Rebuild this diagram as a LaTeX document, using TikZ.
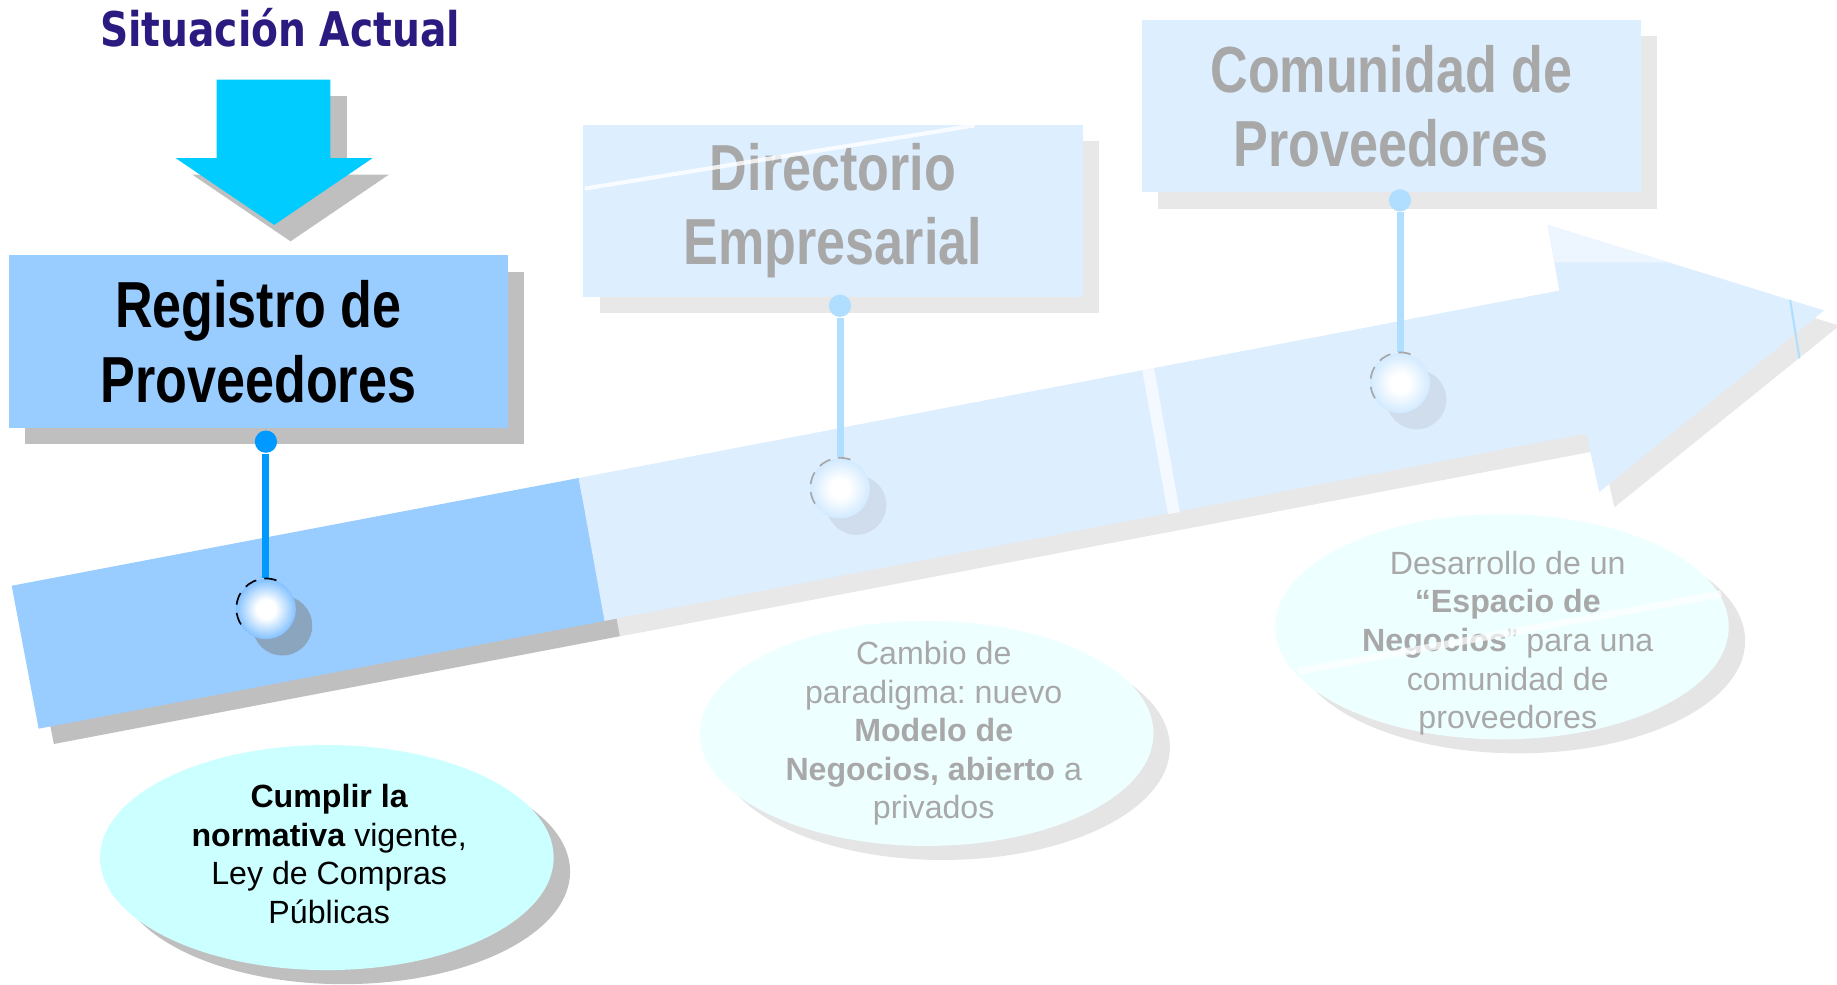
\documentclass[tikz,border=0pt]{standalone}
\usepackage{fontspec}
\setmainfont{Liberation Sans}
\newfontfamily\narrowfont[FakeStretch=0.8]{Liberation Sans}
\newfontfamily\headfont[FakeStretch=0.82]{DejaVu Sans}
\usetikzlibrary{shapes.geometric,shadows}
\frenchspacing
\definecolor{titleblue}{RGB}{43,27,128}
\definecolor{arrowcyan}{HTML}{00CCFF}
\definecolor{boxdeep}{HTML}{99CCFF}
\definecolor{boxpale}{HTML}{DDEEFF}
\definecolor{fadegray}{HTML}{A8A8A8}
\definecolor{goaldeep}{HTML}{CCFFFF}
\definecolor{goalpale}{HTML}{EEFFFF}
\definecolor{pindeep}{HTML}{0099FF}
\definecolor{pinpale}{HTML}{B0DEFF}
\definecolor{bubdeep}{HTML}{3399FF}
\definecolor{bubpale}{HTML}{B4DCFF}
\definecolor{stripe}{HTML}{F4F9FF}
\pgfdeclareradialshading{bubble deep}{\pgfpoint{0bp}{0bp}}{color(0bp)=(white); color(8bp)=(white); color(36bp)=(bubdeep); color(50bp)=(bubdeep)}
\pgfdeclareradialshading{bubble pale}{\pgfpoint{0bp}{0bp}}{color(0bp)=(white); color(8bp)=(white); color(36bp)=(bubpale); color(50bp)=(bubpale)}
\tikzset{
   stage box/.style={rectangle,minimum width=4.26cm,minimum height=1.47cm,inner sep=0pt,align=center,
                     font=\narrowfont\bfseries\fontsize{15.8}{18.1}\selectfont},
   now box/.style={stage box,fill=boxdeep,text=black,
                   drop shadow={shadow xshift=.14cm,shadow yshift=-.14cm,fill=black!25,opacity=1}},
   next box/.style={stage box,fill=boxpale,text=fadegray,
                    drop shadow={shadow xshift=.14cm,shadow yshift=-.14cm,fill=black!9,opacity=1}},
   goal/.style={ellipse,minimum width=3.87cm,minimum height=1.92cm,inner sep=0pt},
   goal now/.style={goal,fill=goaldeep,
                    drop shadow={shadow xshift=.14cm,shadow yshift=-.12cm,fill=black!25,opacity=1}},
   goal next/.style={goal,fill=goalpale,
                     drop shadow={shadow xshift=.14cm,shadow yshift=-.12cm,fill=black!10,opacity=1}},
   goal text/.style={align=center,text=fadegray,font=\fontsize{7.8}{9.35}\selectfont},
   bubble/.style={circle,minimum size=.51cm,inner sep=0pt,shade},
   bubble now/.style={bubble,shading=bubble deep,
                      drop shadow={shadow xshift=.14cm,shadow yshift=-.14cm,fill=gray,opacity=.5}},
   bubble next/.style={bubble,shading=bubble pale,
                       drop shadow={shadow xshift=.14cm,shadow yshift=-.14cm,fill=gray,opacity=.15}},
   pin now/.style={circle,fill=pindeep,minimum size=.19cm,inner sep=0pt},
   pin next/.style={circle,fill=pinpale,minimum size=.19cm,inner sep=0pt},
   stem now/.style={draw=pindeep,line width=1.7pt},
   stem next/.style={draw=pinpale,line width=1.7pt}
}

\begin{document}
\begin{tikzpicture}[x=0.01cm,y=-0.01cm]
\useasboundingbox (0,0) rectangle (1568,840);
% timeline arrow
\fill[black!9] (22,513) -- (1343,261) -- (1334,205) -- (1570,278) -- (1378,433) -- (1367,384) -- (46,635) -- cycle;
\fill[black!25] (22,513) -- (507,421) -- (529,543) -- (46,635) -- cycle;
\fill[boxdeep] (10,500) -- (494,408) -- (516,530) -- (33,622) -- cycle;
\fill[boxpale] (494,408) -- (1331,248) -- (1321,192) -- (1557,265) -- (1365,420) -- (1354,370) -- (516,530) -- cycle;
\fill[stripe] (975,316) -- (985,314) -- (1007,437) -- (997,439) -- cycle;
\fill[stripe!70!boxpale] (1321,192) -- (1424,224) -- (1327,224) -- cycle;
\draw[pinpale,line width=.5pt] (1528,256) -- (1536,306);
% current state marker
\fill[black!25] (199,82) -- (296,82) -- (296,149) -- (332,149) -- (248,206) -- (164,149) -- (199,149) -- cycle;
\fill[arrowcyan] (185,68) -- (282,68) -- (282,135) -- (318,135) -- (234,192) -- (150,135) -- (185,135) -- cycle;
\node[anchor=base,text=titleblue,font=\headfont\bfseries\fontsize{11.6}{13}\selectfont] (situacion) at (239,40) {Situación Actual};
%
\node[now box]  (registro)   at (220.5,291.5) {Registro de\\Proveedores};
\node[next box] (directorio) at (711,180)     {Directorio\\Empresarial};
\node[next box] (comunidad)  at (1187.5,90.5) {Comunidad de\\Proveedores};
\draw[white,line width=1pt,opacity=.8] (499,161) -- (832,107);
%
\node[goal now]  (cumplir)    at (279,732) {};
\node[goal next] (cambio)     at (791,626) {};
\node[goal next] (desarrollo) at (1282,535) {};
\node[goal text,text=black] (cumplir text) at ([shift={(2,-3)}]cumplir.center)
  {\textbf{Cumplir la}\\\textbf{normativa} vigente,\\Ley de Compras\\Públicas};
\node[goal text] (cambio text) at ([shift={(6,0)}]cambio.center)
  {Cambio de\\paradigma: nuevo\\\textbf{Modelo de}\\\textbf{Negocios, abierto} a\\privados};
\node[goal text] (desarrollo text) at ([shift={(5,14)}]desarrollo.center)
  {Desarrollo de un\\\textbf{“Espacio de}\\\textbf{Negocios}” para una\\comunidad de\\proveedores};
\draw[white,line width=1.7pt,opacity=.7] (1108,573) -- (1469,507);
%
\node[bubble now]  (b1) at (227,520) {};
\node[bubble next] (b2) at (717,417) {};
\node[bubble next] (b3) at (1195,327) {};
\node[pin now]  (p1) at (227,377) {};
\node[pin next] (p2) at (717,261) {};
\node[pin next] (p3) at (1195,171) {};
\path (p1) edge[stem now] (b1)
      (p2) edge[stem next] (b2)
      (p3) edge[stem next] (b3);
\draw[black,densely dashed,line width=.4pt] (b1.70) arc[start angle=70,end angle=220,radius=.255cm];
\draw[black!35,densely dashed,line width=.4pt] (b2.70) arc[start angle=70,end angle=220,radius=.255cm];
\draw[black!35,densely dashed,line width=.4pt] (b3.70) arc[start angle=70,end angle=220,radius=.255cm];
\end{tikzpicture}
\end{document}
